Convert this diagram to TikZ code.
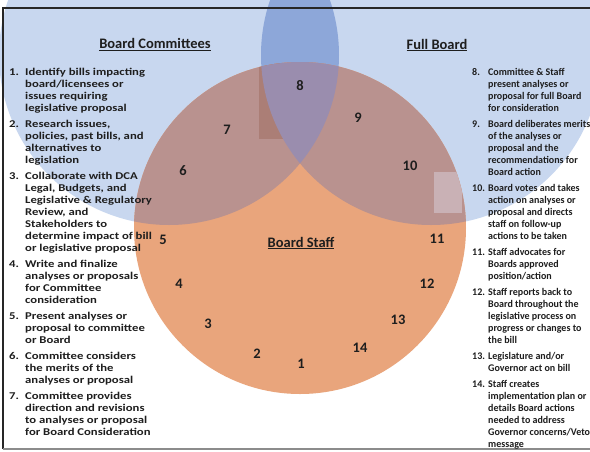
\documentclass[tikz,border=0pt]{standalone}
\usepackage{fontspec}
\setmainfont{Carlito}
\newfontfamily\listfont{Carlito}[FakeStretch=1.22]
\newfontfamily\rlistfont{Carlito}[FakeStretch=0.98]
\definecolor{bluelight}{HTML}{C8D7EF}
\definecolor{bluedark}{HTML}{8DA7D9}
\definecolor{staff}{HTML}{E9A57C}
\definecolor{mauve}{HTML}{B9928F}
\definecolor{triple}{HTML}{9A8DAE}
\definecolor{scandark}{HTML}{AB7E76}
\definecolor{scanlight}{HTML}{C9B1B5}
\definecolor{txt}{HTML}{1E1E1E}
\tikzset{
  listtext/.style={anchor=base west, inner sep=0pt, text=txt,
    font=\listfont\bfseries\fontsize{10.4}{12}\selectfont},
  rlisttext/.style={anchor=base west, inner sep=0pt, text=txt,
    font=\rlistfont\bfseries\fontsize{10.2}{12}\selectfont},
  head/.style={anchor=base, inner sep=0pt, text=txt,
    font=\bfseries\fontsize{14.5}{16}\selectfont},
  digit/.style={anchor=base, inner sep=0pt, text=txt,
    font=\bfseries\fontsize{14.5}{16}\selectfont},
  frameline/.style={line width=1.6pt}
}
\begin{document}
\begin{tikzpicture}[x=1pt,y=-1pt]
\useasboundingbox (0,0) rectangle (590,451);
\fill[white] (0,0) rectangle (590,451);
% circle centres
\coordinate (cL) at (169,55);
\coordinate (cR) at (431,55);
\coordinate (cS) at (300,228);
% blue circles
\fill[bluelight] (cL) circle[radius=170pt];
\fill[bluelight] (cR) circle[radius=170pt];
\begin{scope}
  \clip (cL) circle[radius=170pt];
  \fill[bluedark] (cR) circle[radius=170pt];
\end{scope}
% staff circle
\fill[staff] (cS) circle[radius=166pt];
\begin{scope}
  \clip (cS) circle[radius=166pt];
  \fill[mauve] (cL) circle[radius=170pt];
  \fill[mauve] (cR) circle[radius=170pt];
  \fill[scanlight] (434,172) rectangle (462,213);
  \begin{scope}
    \clip (cL) circle[radius=170pt];
    \fill[scandark] (259,63) rectangle (283,139);
    \fill[triple] (cR) circle[radius=170pt];
  \end{scope}
\end{scope}
% frame
\coordinate (ftl) at (3,8);
\coordinate (ftr) at (590,8);
\coordinate (fbl) at (3,449);
\coordinate (fbr) at (590,449);
\draw[frameline, black!85] (fbl) -- (ftl) -- (ftr);
\draw[frameline, black!45] (fbl) -- (fbr);
% headings
\node[head] (hbc) at (155,48.5) {\underline{Board Committees}};
\node[head] (hfb) at (437,49) {\underline{Full Board}};
\node[head] (hbs) at (301,247) {\underline{Board Staff}};
% digits
\node[digit] (d1) at (301,368) {1};
\node[digit] (d2) at (257,358) {2};
\node[digit] (d3) at (208,328) {3};
\node[digit] (d4) at (179,288) {4};
\node[digit] (d5) at (163,244) {5};
\node[digit] (d6) at (183,175) {6};
\node[digit] (d7) at (227,134) {7};
\node[digit] (d8) at (300,90) {8};
\node[digit] (d9) at (358,122) {9};
\node[digit] (d10) at (410,170) {10};
\node[digit] (d11) at (437,243) {11};
\node[digit] (d12) at (427,288) {12};
\node[digit] (d13) at (398,324) {13};
\node[digit] (d14) at (360,352) {14};
% left list
\node[listtext] (leftlist) at (9,75) {\begin{tabular}[t]{@{}p{16pt}@{}l@{}}
1. & Identify bills impacting\\
   & board/licensees or\\
   & issues requiring\\
   & legislative proposal\\[4pt]
2. & Research issues,\\
   & policies, past bills, and\\
   & alternatives to\\
   & legislation\\[4pt]
3. & Collaborate with DCA\\
   & Legal, Budgets, and\\
   & Legislative \& Regulatory\\
   & Review, and\\
   & Stakeholders to\\
   & determine impact of bill\\
   & or legislative proposal\\[4pt]
4. & Write and finalize\\
   & analyses or proposals\\
   & for Committee\\
   & consideration\\[4pt]
5. & Present analyses or\\
   & proposal to committee\\
   & or Board\\[4pt]
6. & Committee considers\\
   & the merits of the\\
   & analyses or proposal\\[4pt]
7. & Committee provides\\
   & direction and revisions\\
   & to analyses or proposal\\
   & for Board Consideration
\end{tabular}};
% right list
\node[rlisttext] (rightlist) at (472,75) {\begin{tabular}[t]{@{}p{16pt}@{}l@{}}
8. & Committee \& Staff\\
   & present analyses or\\
   & proposal for full Board\\
   & for consideration\\[4pt]
9. & Board deliberates merits\\
   & of the analyses or\\
   & proposal and the\\
   & recommendations for\\
   & Board action\\[4pt]
10. & Board votes and takes\\
   & action on analyses or\\
   & proposal and directs\\
   & staff on follow-up\\
   & actions to be taken\\[4pt]
11. & Staff advocates for\\
   & Boards approved\\
   & position/action\\[4pt]
12. & Staff reports back to\\
   & Board throughout the\\
   & legislative process on\\
   & progress or changes to\\
   & the bill\\[4pt]
13. & Legislature and/or\\
   & Governor act on bill\\[4pt]
14. & Staff creates\\
   & implementation plan or\\
   & details Board actions\\
   & needed to address\\
   & Governor concerns/Veto\\
   & message
\end{tabular}};
\end{tikzpicture}
\end{document}
